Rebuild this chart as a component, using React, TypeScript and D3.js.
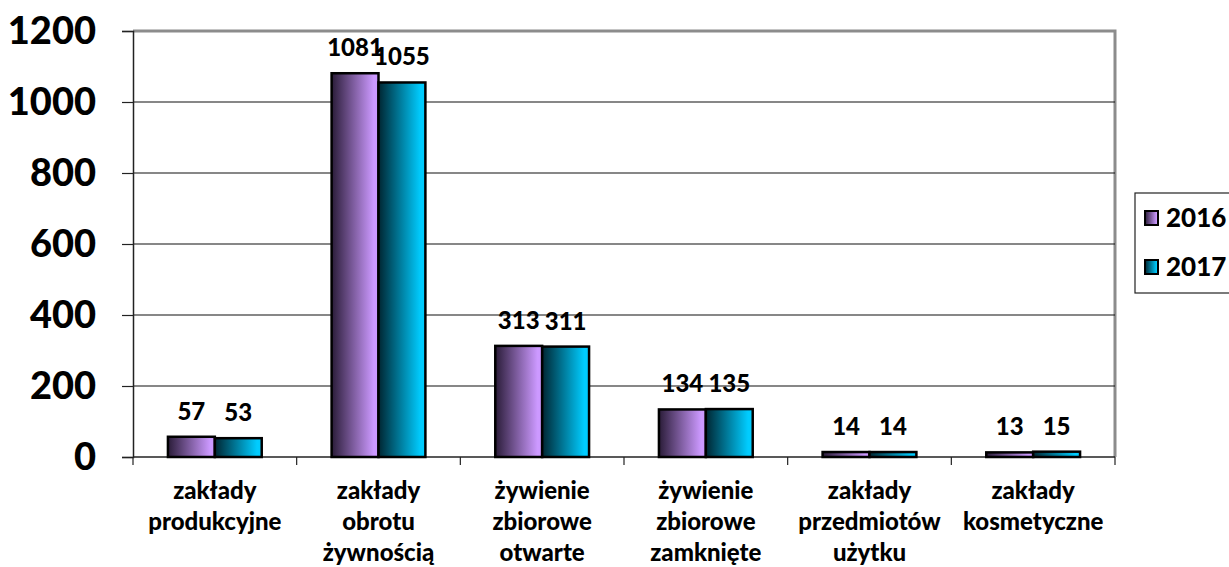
import React, { useEffect, useRef } from "react";
import * as d3 from "d3";

const CATEGORIES = [
  ["zakłady", "produkcyjne"],
  ["zakłady", "obrotu", "żywnością"],
  ["żywienie", "zbiorowe", "otwarte"],
  ["żywienie", "zbiorowe", "zamknięte"],
  ["zakłady", "przedmiotów", "użytku"],
  ["zakłady", "kosmetyczne"],
];
const SERIES = ["2016", "2017"];
const VALUES_2016 = [57, 1081, 313, 134, 14, 13];
const VALUES_2017 = [53, 1055, 311, 135, 14, 15];
const Y_TICKS = [0, 200, 400, 600, 800, 1000, 1200];

const FONT = "Lato, 'Open Sans', sans-serif";
const COLORS = [
  { dark: "#2a1c38", light: "#cc99ff" },
  { dark: "#002632", light: "#00ccff" },
];

const W = 1229;
const H = 567;
const M = { left: 133, right: 1115, top: 31, bottom: 457 };

export default function App() {
  const ref = useRef<SVGSVGElement | null>(null);

  useEffect(() => {
    const svg = d3.select(ref.current);
    svg.selectAll("*").remove();

    const defs = svg.append("defs");
    COLORS.forEach((c, i) => {
      const g = defs.append("linearGradient").attr("id", `grad${i}`)
        .attr("x1", "0").attr("x2", "1").attr("y1", "0").attr("y2", "0");
      g.append("stop").attr("offset", "0").attr("stop-color", c.dark);
      g.append("stop").attr("offset", "0.9").attr("stop-color", c.light);
      g.append("stop").attr("offset", "1").attr("stop-color", c.light);
    });

    const idx = CATEGORIES.map((_, i) => String(i));
    const x = d3.scaleBand().domain(idx).range([M.left, M.right]).padding(0);
    const xs = d3.scaleBand().domain(SERIES).range([0, x.bandwidth()])
      .paddingInner(0).paddingOuter(0.745);
    const y = d3.scaleLinear().domain([0, 1200]).range([M.bottom, M.top]);

    // plot frame (top/right gray border)
    svg.append("path")
      .attr("d", `M${M.left},${M.top}H${M.right}V${M.bottom}`)
      .attr("fill", "none").attr("stroke", "#8c8c8c").attr("stroke-width", 3);

    // gridlines
    svg.append("g").selectAll("line").data(Y_TICKS.filter(d => d > 0 && d < 1200)).join("line")
      .attr("x1", M.left).attr("x2", M.right)
      .attr("y1", d => y(d)).attr("y2", d => y(d))
      .attr("stroke", "#111").attr("stroke-width", 1.2);

    // y axis
    const ya = svg.append("g").attr("transform", `translate(${M.left},0)`)
      .call(d3.axisLeft(y).tickValues(Y_TICKS).tickFormat(d3.format("d")).tickSize(11).tickPadding(26));
    ya.select(".domain").attr("stroke", "#222").attr("stroke-width", 1.5);
    ya.selectAll(".tick line").attr("stroke", "#222").attr("stroke-width", 1.2);
    ya.selectAll("text").attr("font-family", FONT).attr("font-weight", 900)
      .attr("font-size", 38).attr("fill", "#000");

    // x axis
    const xa = svg.append("g").attr("transform", `translate(0,${M.bottom})`);
    xa.append("line").attr("x1", M.left).attr("x2", M.right)
      .attr("stroke", "#222").attr("stroke-width", 1.5);
    const bounds = idx.map(d => x(d)!).concat([M.right]);
    xa.selectAll("line.tk").data(bounds).join("line").attr("class", "tk")
      .attr("x1", d => d).attr("x2", d => d).attr("y1", 0).attr("y2", 8)
      .attr("stroke", "#222").attr("stroke-width", 1.2);
    CATEGORIES.forEach((lines, i) => {
      const t = xa.append("text").attr("text-anchor", "middle")
        .attr("font-family", FONT).attr("font-weight", 900).attr("font-size", 24)
        .attr("fill", "#000");
      lines.forEach((l, j) => {
        t.append("tspan").attr("x", x(String(i))! + x.bandwidth() / 2)
          .attr("y", 42 + j * 31).text(l);
      });
    });

    // bars
    const data = [VALUES_2016, VALUES_2017];
    data.forEach((vals, s) => {
      const g = svg.append("g");
      g.selectAll("rect").data(vals).join("rect")
        .attr("x", (_, i) => x(String(i))! + xs(SERIES[s])!)
        .attr("y", d => y(d))
        .attr("width", xs.bandwidth())
        .attr("height", d => M.bottom - y(d))
        .attr("fill", `url(#grad${s})`)
        .attr("stroke", "#000").attr("stroke-width", 2.5);
      g.selectAll("text").data(vals).join("text")
        .attr("x", (_, i) => x(String(i))! + xs(SERIES[s])! + xs.bandwidth() / 2)
        .attr("y", d => y(d) - 17)
        .attr("text-anchor", "middle")
        .attr("font-family", FONT).attr("font-weight", 900).attr("font-size", 24)
        .attr("fill", "#000")
        .text(d => d);
    });

    // legend
    const lg = svg.append("g");
    lg.append("rect").attr("x", 1135).attr("y", 193).attr("width", 110).attr("height", 100)
      .attr("fill", "#fff").attr("stroke", "#222").attr("stroke-width", 1.2);
    SERIES.forEach((s, i) => {
      const cy = 218 + i * 49;
      lg.append("rect").attr("x", 1145).attr("y", cy - 7).attr("width", 13).attr("height", 14)
        .attr("fill", `url(#grad${i})`).attr("stroke", "#000").attr("stroke-width", 2);
      lg.append("text").attr("x", 1166).attr("y", cy).attr("dy", "0.36em")
        .attr("font-family", FONT).attr("font-weight", 900).attr("font-size", 26)
        .attr("fill", "#000").text(s);
    });
  }, []);

  return (
    <div style={{ position: "absolute", left: 0, top: 0, width: W, height: H, background: "#fff" }}>
      <svg ref={ref} width={W} height={H} style={{ display: "block" }} />
    </div>
  );
}
